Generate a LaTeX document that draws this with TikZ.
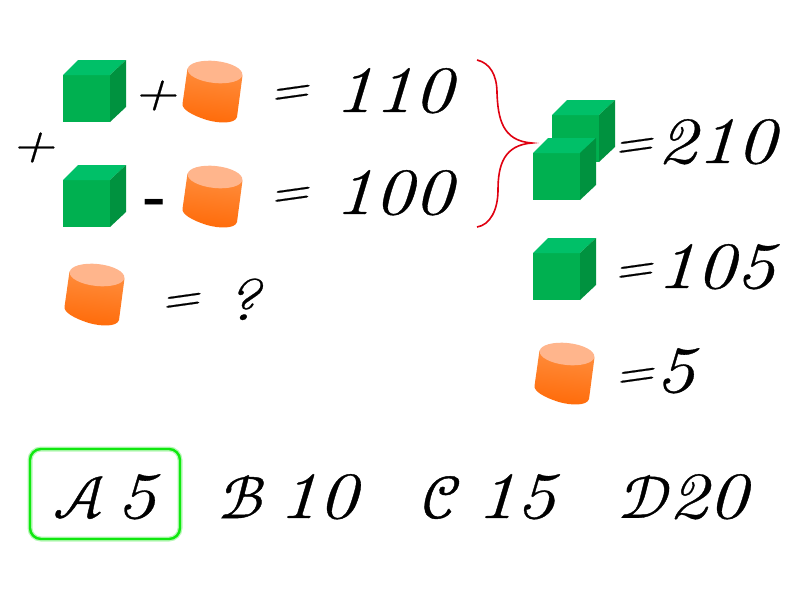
\documentclass[tikz,border=0pt]{standalone}
\usepackage{fontspec}
\setmainfont{Latin Modern Roman}[ItalicFeatures={FakeStretch=1.2,FakeBold=0.5}]
\newfontfamily\calfont[FakeBold=0.7]{Latin Modern Math}
\usetikzlibrary{shadings}
\definecolor{cubefront}{HTML}{00B050}
\definecolor{cubetop}{HTML}{00C068}
\definecolor{cubeside}{HTML}{00923F}
\definecolor{cyltop}{HTML}{FFB58C}
\definecolor{cylhi}{HTML}{FF8E3E}
\definecolor{cyllo}{HTML}{FF6A08}
\definecolor{bracered}{HTML}{E00010}
\definecolor{boxgreen}{HTML}{10E810}
\tikzset{
  x=1pt,y=-1pt,
  txt/.style={anchor=base west,inner sep=0pt,text=black},
  big/.style={txt,font=\fontsize{66}{66}\selectfont\itshape},
  mid/.style={txt,font=\fontsize{50}{50}\selectfont\itshape},
  eqsign/.style={txt,rotate=8,font=\fontsize{46}{46}\selectfont\itshape\addfontfeature{FakeBold=1.5}},
  callig/.style={txt,font=\fontsize{60}{60}\selectfont\calfont},
  cube/.pic={
    \fill[cubefront] (0,0) rectangle (47,-47);
    \fill[cubetop] (0,-47) -- (15,-62) -- (63,-62) -- (47,-47) -- cycle;
    \fill[cubeside] (47,0) -- (47,-47) -- (63,-62) -- (63,-15) -- cycle;
  },
  cyl/.pic={
    \shade[top color=cylhi,bottom color=cyllo,shading angle=-7]
      (-27.5,-3.5) -- (-32.5,32) .. controls (-33,37) and (-24,43) .. (-8,48)
      .. controls (4,51.5) and (20,52) .. (22,45) -- (27.5,3.5) -- cycle;
    \fill[cyltop,rotate=-6] (0,0) ellipse [x radius=27.5,y radius=11];
  }
}
\begin{document}
\begin{tikzpicture}
\useasboundingbox (0,0) rectangle (800,600);
\fill[white] (0,0) rectangle (800,600);
\pic at (63,122) {cube};
\pic at (63,227) {cube};
\pic at (552,162) {cube};
\pic at (533,200) {cube};
\pic at (533,300) {cube};
\pic at (215,72) {cyl};
\pic at (215,177) {cyl};
\pic at (97,275) {cyl};
\pic at (567,354) {cyl};
\node[mid] (plusa) at (132,108) {+};
\node[mid] (plusb) at (10,160) {+};
\node[big,font=\fontsize{60}{60}\selectfont\bfseries] (minus) at (144,215) {-};
\node[eqsign] (eqa) at (270,107) {=};
\node[big] (vala) at (334,112) {110};
\node[eqsign] (eqb) at (270,209) {=};
\node[big] (valb) at (334,214) {100};
\node[eqsign] (eqc) at (161,315) {=};
\node[big,font=\fontsize{58}{58}\selectfont\itshape] (qm) at (225,320) {?};
\node[eqsign] (eqd) at (614,160) {=};
\node[big] (vald) at (657,163) {210};
\node[eqsign] (eqe) at (614,285) {=};
\node[big] (vale) at (656,288) {105};
\node[eqsign] (eqf) at (615,390) {=};
\node[big] (valf) at (655,392) {5};
\draw[bracered,line width=1.6pt] (477,60) .. controls (490,63) and (497,75) .. (497,93)
  .. controls (498,118) and (502,141) .. (532,143)
  .. controls (504,145) and (498,165) .. (498,190)
  .. controls (498,210) and (490,225) .. (477,227);
\draw[boxgreen!30,line width=5pt,rounded corners=11pt] (30,449) rectangle (180,539);
\node[draw=boxgreen,line width=2.4pt,rounded corners=11pt,minimum width=150pt,minimum height=90pt,inner sep=0pt] (box) at (105,494) {};
\node[callig] (la) at (53,518) {^^^^^^01d49c};
\node[big] (na) at (116,518) {5};
\node[callig] (lb) at (219,518) {ℬ};
\node[big] (nb) at (278,518) {10};
\node[callig] (lc) at (422,518) {^^^^^^01d49e};
\node[big] (nc) at (476,518) {15};
\node[callig] (ld) at (619,518) {^^^^^^01d49f};
\node[big] (nd) at (668,518) {20};
\end{tikzpicture}
\end{document}
